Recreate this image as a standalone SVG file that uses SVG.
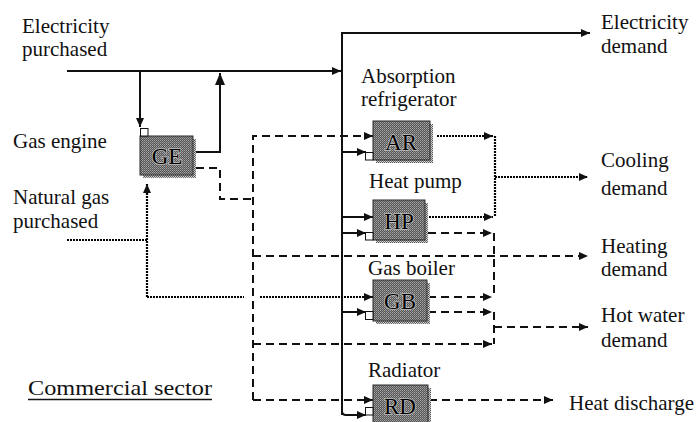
<svg xmlns="http://www.w3.org/2000/svg" width="696" height="422" viewBox="0 0 696 422" font-family="'Liberation Serif', 'Times New Roman', Tinos, 'DejaVu Serif', serif">
<style>
text{font-family:"Liberation Serif","Times New Roman",Tinos,"DejaVu Serif",serif;font-size:21px;fill:#111}
.lbl{font-size:23px;text-anchor:middle;stroke:#bdbdbd;stroke-width:1.6;paint-order:stroke;fill:#000}
.box{fill:url(#stip);stroke:#2a2a2a;stroke-width:1}
.sh{fill:url(#stipl)}
.sq{fill:#fff;stroke:#111;stroke-width:1}
.e{fill:none;stroke:#111;stroke-width:2}
.h{fill:none;stroke:#111;stroke-width:2;stroke-dasharray:8 5}
.g{fill:none;stroke:#000;stroke-width:2.2;stroke-dasharray:2 1}
</style>
<defs>
<pattern id="stip" width="2" height="2" patternUnits="userSpaceOnUse">
<rect width="2" height="2" fill="#555"/><rect width="1" height="1" fill="#a8a8a8"/><rect x="1" y="1" width="1" height="1" fill="#8a8a8a"/>
</pattern>
<pattern id="stipl" width="2" height="2" patternUnits="userSpaceOnUse">
<rect width="2" height="2" fill="#cfcfcf"/><rect width="1" height="1" fill="#555"/><rect x="1" y="1" width="1" height="1" fill="#777"/>
</pattern>
<marker id="a" markerUnits="userSpaceOnUse" markerWidth="10" markerHeight="8" refX="9" refY="4" orient="auto" overflow="visible">
<path d="M0,0 L9,4 L0,8 z" fill="#111"/>
</marker>
<marker id="big" markerUnits="userSpaceOnUse" markerWidth="12" markerHeight="10" refX="12" refY="5" orient="auto" overflow="visible">
<path d="M0,0 L12,5 L0,10 z" fill="#111"/>
</marker>
</defs>

<g id="texts">
<text x="22" y="33">Electricity</text>
<text x="22" y="56">purchased</text>
<text x="13" y="148">Gas engine</text>
<text x="13" y="204">Natural gas</text>
<text x="13" y="228">purchased</text>
<text x="28" y="395" style="font-size:22px" textLength="184" lengthAdjust="spacingAndGlyphs">Commercial sector</text>
<line x1="28" y1="399.5" x2="212" y2="399.5" stroke="#111" stroke-width="1.3"/>
<text x="601" y="29">Electricity</text>
<text x="601" y="53">demand</text>
<text x="601" y="167">Cooling</text>
<text x="601" y="195">demand</text>
<text x="601" y="253">Heating</text>
<text x="601" y="276">demand</text>
<text x="601" y="322">Hot water</text>
<text x="601" y="347">demand</text>
<text x="569" y="410">Heat discharge</text>
</g>

<g id="connectors">
<path class="e" d="M67,71 H341" marker-end="url(#a)"/>
<path class="e" d="M140,71 V127" marker-end="url(#a)"/>
<path class="e" d="M196,152 H220 V73" marker-end="url(#big)"/>
<path class="e" d="M342,415 V33 H590" marker-end="url(#a)"/>
<path class="e" d="M342,411 Q342,415 346,415 H366" marker-end="url(#a)"/>
<path class="e" d="M342,152 H366" marker-end="url(#a)"/>
<path class="e" d="M342,217 H373" marker-end="url(#a)"/>
<path class="e" d="M342,233 H366" marker-end="url(#a)"/>
<path class="e" d="M342,312 H366" marker-end="url(#a)"/>
<path class="h" d="M196,168 H220 V199 H253"/>
<path class="h" d="M253,400 V136 H373" marker-end="url(#a)"/>
<path class="h" d="M253,256 H588" marker-end="url(#a)"/>
<path class="h" d="M253,344 H492" marker-end="url(#a)"/>
<path class="h" d="M253,400 H373" marker-end="url(#a)"/>
<path class="h" d="M428,233 H492" marker-end="url(#a)"/>
<path class="h" d="M494,233 V297"/>
<path class="h" d="M428,297 H492" marker-end="url(#a)"/>
<path class="h" d="M428,312 H492" marker-end="url(#a)"/>
<path class="h" d="M494,312 V344"/>
<path class="h" d="M494,327 H588" marker-end="url(#a)"/>
<path class="h" d="M429,400 H553" marker-end="url(#a)"/>
<path class="g" d="M67,240 H147"/>
<path class="g" d="M147,297 V184" marker-end="url(#a)"/>
<path class="g" d="M147,297 H244"/>
<path class="g" d="M260,297 H373" marker-end="url(#a)"/>
<path class="g" d="M437,136 H493" marker-end="url(#a)"/>
<path class="g" d="M495,136 V217"/>
<path class="g" d="M429,217 H493" marker-end="url(#a)"/>
<path class="g" d="M495,177 H588" marker-end="url(#a)"/>
</g>

<g id="GE">
<rect class="sh" x="143" y="139" width="53" height="39"/>
<rect class="box" x="140" y="136" width="53" height="39"/>
<rect class="sq" x="140.5" y="128.5" width="7.5" height="7.5"/>
<text class="lbl" x="167" y="164">GE</text>
</g>
<g id="AR">
<rect class="sh" x="376" y="124" width="57" height="39"/>
<rect class="box" x="373" y="121" width="57" height="39"/>
<rect class="sq" x="365.5" y="152.5" width="7.5" height="7.5"/>
<text class="lbl" x="401" y="150">AR</text>
</g>
<g id="HP">
<rect class="sh" x="376" y="203" width="52" height="40"/>
<rect class="box" x="373" y="200" width="52" height="40"/>
<rect class="sq" x="365.5" y="232.5" width="7.5" height="7.5"/>
<text class="lbl" x="399" y="229">HP</text>
</g>
<g id="GB">
<rect class="sh" x="376" y="283" width="54" height="41"/>
<rect class="box" x="373" y="280" width="54" height="41"/>
<rect class="sq" x="365.5" y="311.5" width="7.5" height="8"/>
<text class="lbl" x="400" y="309">GB</text>
</g>
<g id="RD">
<rect class="sh" x="376" y="388" width="55" height="40"/>
<rect class="box" x="373" y="385" width="55" height="40"/>
<rect class="sq" x="365.5" y="407.5" width="7.5" height="7.5"/>
<text class="lbl" x="400" y="414">RD</text>
</g>

<g id="labels">
<text x="361" y="83">Absorption</text>
<text x="361" y="106">refrigerator</text>
<text x="369" y="188">Heat pump</text>
<text x="368" y="275">Gas boiler</text>
<text x="368" y="377">Radiator</text>
</g>
</svg>
